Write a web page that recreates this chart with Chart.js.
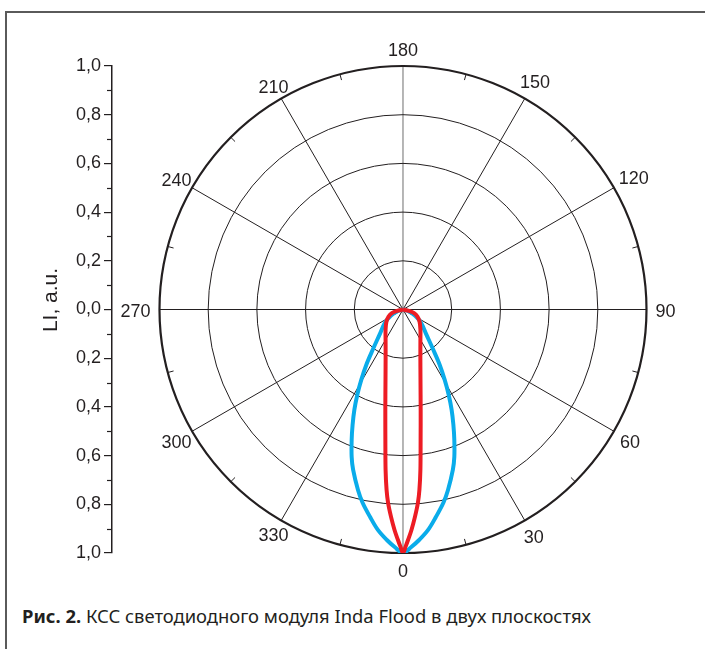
<!DOCTYPE html>
<html>
<head>
<meta charset="utf-8">
<script src="https://cdn.jsdelivr.net/npm/chart.js@4.4.1/dist/chart.umd.min.js"></script>
<style>
  html, body { margin: 0; padding: 0; background: #fff; overflow: hidden; }
  body { width: 705px; height: 649px; position: relative; }
  #frame { position: absolute; left: 5px; top: 11px; width: 720px; height: 660px;
           border-top: 2px solid #5a5a5a; border-left: 2px solid #5a5a5a; }
  #box { position: absolute; left: 0; top: 0; width: 705px; height: 590px; }
  #caption { position: absolute; left: 22px; top: 603px; font-family: "Noto Sans"; font-size: 18.4px;
             color: #231f20; white-space: nowrap; }
</style>
</head>
<body>
<div id="frame"></div>
<div id="box"><canvas id="kss"></canvas></div>
<div id="caption"><b>Рис. 2.</b> КСС светодиодного модуля Inda Flood в двух плоскостях</div>
<script>
// angles as marked on the polar grid (0 = down, 90 = right, 180 = up)
const blueAngles = [270, 288, 297, 306, 317, 323, 326.4, 329.3, 331.8, 334.1, 336.4, 338.5, 340.8, 342.7,
  346, 348.2, 351, 353.5, 356, 358, 0, 2, 4, 6.5, 9, 11.8, 14, 17.3, 19.2, 21.5, 23.6, 25.9, 28.2, 30.7,
  33.6, 37, 43, 54, 63, 72, 90];
const blueLI = [0, 0.026, 0.055, 0.091, 0.141, 0.206, 0.272, 0.335, 0.397, 0.457, 0.517, 0.575, 0.641, 0.689,
  0.764, 0.811, 0.863, 0.911, 0.949, 0.976, 1.0, 0.976, 0.949, 0.911, 0.863, 0.811, 0.764, 0.689, 0.641,
  0.575, 0.517, 0.457, 0.397, 0.335, 0.272, 0.206, 0.141, 0.091, 0.055, 0.026, 0];

const redAngles = [270, 283, 288, 296, 306, 319, 330, 339, 346, 350, 352.3, 353.8, 354.8, 355.6, 356.7, 357.8,
  358.75, 359.4, 0, 0.6, 1.25, 2.2, 3.3, 4.4, 5.2, 6.2, 7.7, 10, 14, 21, 30, 41, 54, 64, 72, 77, 90];
const redLI = [0, 0.025, 0.048, 0.066, 0.084, 0.109, 0.143, 0.199, 0.297, 0.418, 0.54, 0.662, 0.744, 0.797,
  0.853, 0.906, 0.947, 0.975, 1.0, 0.975, 0.947, 0.906, 0.853, 0.797, 0.744, 0.662, 0.54, 0.418, 0.297,
  0.199, 0.143, 0.109, 0.084, 0.066, 0.048, 0.025, 0];

const ringValues = [0.2, 0.4, 0.6, 0.8, 1.0];
const spokeAngles = [0, 30, 60, 90, 120, 150, 180, 210, 240, 270, 300, 330];
const minorAngles = [15, 45, 75, 105, 135, 165, 195, 225, 255, 285, 315, 345];
const liTicks = [-1.0, -0.8, -0.6, -0.4, -0.2, 0, 0.2, 0.4, 0.6, 0.8, 1.0];
const liMinor = [-0.9, -0.7, -0.5, -0.3, -0.1, 0.1, 0.3, 0.5, 0.7, 0.9];

const INK = '#231f20';
const FAMILY = 'Arial, "Liberation Sans", sans-serif';
const rad = a => a * Math.PI / 180;
function toXY(angles, vals) {
  return angles.map((a, i) => ({ x: vals[i] * Math.sin(rad(a)), y: -vals[i] * Math.cos(rad(a)) }));
}

const polarGrid = {
  id: 'polarGrid',
  beforeDatasetsDraw(chart) {
    const { ctx, scales: { x, y } } = chart;
    const cx = x.getPixelForValue(0), cy = y.getPixelForValue(0);
    const R = x.getPixelForValue(1) - cx;
    ctx.save();
    spokeAngles.forEach(a => {
      ctx.beginPath();
      ctx.lineWidth = 1;
      ctx.strokeStyle = (a % 180 === 0) ? '#6d6d6d' : INK;
      ctx.moveTo(cx, cy);
      ctx.lineTo(cx + R * Math.sin(rad(a)), cy + R * Math.cos(rad(a)));
      ctx.stroke();
    });
    ctx.strokeStyle = INK;
    ringValues.forEach(v => {
      ctx.beginPath();
      ctx.lineWidth = v === 1 ? 2.2 : 1;
      ctx.arc(cx, cy, v * R, 0, 2 * Math.PI);
      ctx.stroke();
    });
    ctx.lineWidth = 1;
    minorAngles.forEach(a => {
      const s = Math.sin(rad(a)), c = Math.cos(rad(a));
      ctx.beginPath();
      ctx.moveTo(cx + R * s, cy + R * c);
      ctx.lineTo(cx + (R - 6) * s, cy + (R - 6) * c);
      ctx.stroke();
    });
    ctx.font = '18px ' + FAMILY;
    ctx.fillStyle = INK;
    ctx.textAlign = 'center';
    ctx.textBaseline = 'middle';
    spokeAngles.forEach(a => {
      const s = Math.sin(rad(a)), c = Math.cos(rad(a));
      const txt = String(a);
      const w = ctx.measureText(txt).width;
      let d = R + 17 + Math.abs(s) * Math.max(0, w / 2 - 8);
      if (s < -0.1 && Math.abs(c) > 0.1) d -= 5;
      ctx.fillText(txt, cx + d * s, cy + d * c + 2.5);
    });
    ctx.restore();
  },
  afterDraw(chart) {
    const { ctx, scales: { y } } = chart;
    ctx.save();
    ctx.strokeStyle = INK;
    ctx.lineWidth = 1.2;
    liMinor.forEach(v => {
      const p = Math.round(y.getPixelForValue(v)) + 0.5;
      ctx.beginPath();
      ctx.moveTo(y.right - 5, p);
      ctx.lineTo(y.right, p);
      ctx.stroke();
    });
    // axis title
    ctx.translate(51, 300);
    ctx.rotate(-Math.PI / 2);
    ctx.font = '21px ' + FAMILY;
    ctx.fillStyle = INK;
    ctx.textAlign = 'center';
    ctx.textBaseline = 'middle';
    ctx.fillText('LI, a.u.', 0, 0);
    ctx.restore();
  }
};

new Chart(document.getElementById('kss'), {
  type: 'scatter',
  data: {
    datasets: [
      { data: toXY(redAngles, redLI), showLine: true, borderColor: '#ed1c24', borderWidth: 4,
        pointRadius: 0, tension: 0.35, borderJoinStyle: 'round', order: 0 },
      { data: toXY(blueAngles, blueLI), showLine: true, borderColor: '#0aacea', borderWidth: 4,
        pointRadius: 0, tension: 0.35, borderJoinStyle: 'round', order: 1 }
    ]
  },
  options: {
    responsive: true,
    maintainAspectRatio: false,
    animation: false,
    layout: { padding: { top: 66, right: 58.5, bottom: 37, left: 0 } },
    plugins: { legend: { display: false }, tooltip: { enabled: false } },
    scales: {
      x: { display: false, min: -1.195, max: 1 },
      y: {
        min: -1, max: 1,
        afterFit: s => { s.width = 112; },
        afterBuildTicks: s => { s.ticks = liTicks.map(v => ({ value: v })); },
        ticks: {
          callback: v => Math.abs(v).toFixed(1).replace('.', ','),
          font: { family: FAMILY, size: 18 }, color: INK, padding: 3
        },
        grid: { drawOnChartArea: false, tickLength: 8, color: INK, lineWidth: 1.2 },
        border: { color: INK, width: 1.5 }
      }
    }
  },
  plugins: [polarGrid]
});
</script>
</body>
</html>
